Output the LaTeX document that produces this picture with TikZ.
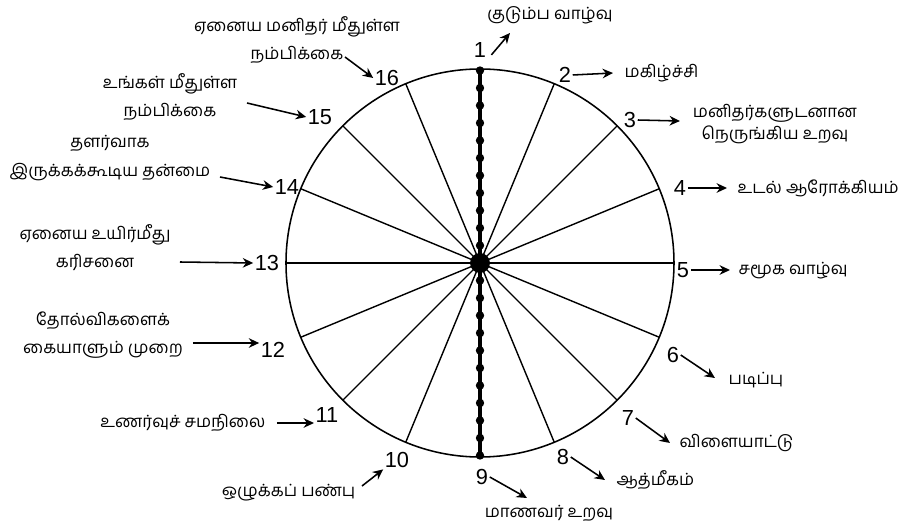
\documentclass[tikz,border=0pt]{standalone}
\usepackage{fontspec}
\setmainfont{Liberation Sans}
\newfontfamily\tamil[Script=Tamil]{Hind Madurai}
\usetikzlibrary{arrows.meta}
\usetikzlibrary{calc}
\tikzset{
  % numbers round the wheel
  num/.style={font=\fontsize{15.5}{15.5}\selectfont, inner sep=1pt},
  % Tamil captions
  lbl/.style={font=\tamil\fontsize{12}{20}\selectfont, align=center, inner sep=1pt},
  % rim, spokes and pointers
  rim/.style={draw=black, line width=1.1pt},
  spoke/.style={draw=black, line width=1pt},
  ptr/.style={-{Stealth[length=2.6mm, width=2.4mm]}, draw=black, line width=1.1pt},
}

\begin{document}
\begin{tikzpicture}[x=0.025cm, y=0.025cm]
\useasboundingbox (-480,-261) rectangle (433,263);

\coordinate (c) at (0,0);

% wheel
\foreach \a in {0,22.5,...,337.5}
  \draw[spoke] (c) -- (\a:194);
\draw[spoke, line width=1.6pt] (180:194) -- (0:194);
\draw[rim] (c) circle[radius=194];
\draw[line width=2.4pt] (0,194) -- (0,-194);
\foreach \y in {-192.5,-175,...,192.5}
  \fill (0,\y) circle[radius=4.2];
\fill (c) circle[radius=10];

% numbers
\node[num] (n1) at (0,213) {1};
\node[num] (n2) at (85,188) {2};
\node[num] (n3) at (150,143) {3};
\node[num] (n4) at (200,75) {4};
\node[num] (n5) at (203,-7) {5};
\node[num] (n6) at (193,-92) {6};
\node[num] (n7) at (148,-155) {7};
\node[num] (n8) at (83,-194) {8};
\node[num] (n9) at (2,-214) {9};
\node[num] (n10) at (-83,-197) {10};
\node[num] (n11) at (-153,-152) {11};
\node[num] (n12) at (-207,-87) {12};
\node[num] (n13) at (-213,0) {13};
\node[num] (n14) at (-193,76) {14};
\node[num] (n15) at (-160,146) {15};
\node[num] (n16) at (-93,185) {16};

% captions
\node[lbl] (t1) at (70,248) {குடும்ப வாழ்வு};
\node[lbl, anchor=west] (t2) at (143,190) {மகிழ்ச்சி};
\node[lbl, font=\tamil\fontsize{12}{16}\selectfont] (t3) at (295,139) {மனிதர்களுடனான\\நெருங்கிய உறவு};
\node[lbl, anchor=west] (t4) at (256,75) {உடல் ஆரோக்கியம்};
\node[lbl, anchor=west] (t5) at (257,-8) {சமூக வாழ்வு};
\node[lbl, anchor=west] (t6) at (247,-117) {படிப்பு};
\node[lbl, anchor=west] (t7) at (198,-180) {விளையாட்டு};
\node[lbl, anchor=west] (t8) at (135,-217) {ஆத்மீகம்};
\node[lbl] (t9) at (69,-250) {மாணவர் உறவு};
\node[lbl, anchor=east] (t10) at (-123,-230) {ஒழுக்கப் பண்பு};
\node[lbl, anchor=east] (t11) at (-213,-160) {உணர்வுச் சமநிலை};
\node[lbl] (t12) at (-377,-72) {தோல்விகளைக்\\கையாளும் முறை};
\node[lbl] (t13) at (-385,15) {ஏனைய உயிர்மீது\\கரிசனை};
\node[lbl] (t14) at (-370,105) {தளர்வாக\\இருக்கக்கூடிய தன்மை};
\node[lbl] (t15) at (-310,166) {உங்கள் மீதுள்ள\\நம்பிக்கை};
\node[lbl] (t16) at (-183,223) {ஏனைய மனிதர் மீதுள்ள\\நம்பிக்கை};

% pointer ends
\coordinate (a1) at (30,230);
\coordinate (a2) at (133,190);
\coordinate (a3) at (200,142);
\coordinate (a4) at (247,75);
\coordinate (a5) at (250,-7);
\coordinate (a6) at (235,-115);
\coordinate (a7) at (190,-180);
\coordinate (a8) at (125,-217);
\coordinate (a9) at (47,-235);
\coordinate (a10) at (-118,-223);
\coordinate (a11) at (-203,-160);
\coordinate (a12) at (-287,-80);
\coordinate (a13) at (-300,1);
\coordinate (a14) at (-260,86);
\coordinate (a15) at (-233,160);
\coordinate (a16) at (-135,206);

\draw[ptr, shorten <=4pt] (n1.south east) -- (a1);
\draw[ptr] (n2.east) -- (a2);
\draw[ptr] (n3.east) -- (a3);
\draw[ptr] (n4.east) -- (a4);
\draw[ptr] (n5.east) -- (a5);
\draw[ptr] (n6.east) -- (a6);
\draw[ptr] (n7.east) -- (a7);
\draw[ptr] (n8.east) -- (a8);
\draw[ptr] (n9.east) -- (a9);
\draw[ptr] (a10) -- (n10.south west);
\draw[ptr] (a11) -- (a11 -| n11.west);
\draw[ptr] (a12) -- (a12 -| n12.west);
\draw[ptr] (a13) -- (n13.west);
\draw[ptr] (a14) -- (n14.west);
\draw[ptr] (a15) -- (n15.west);
\draw[ptr] (a16) -- (n16.west);

\end{tikzpicture}
\end{document}
